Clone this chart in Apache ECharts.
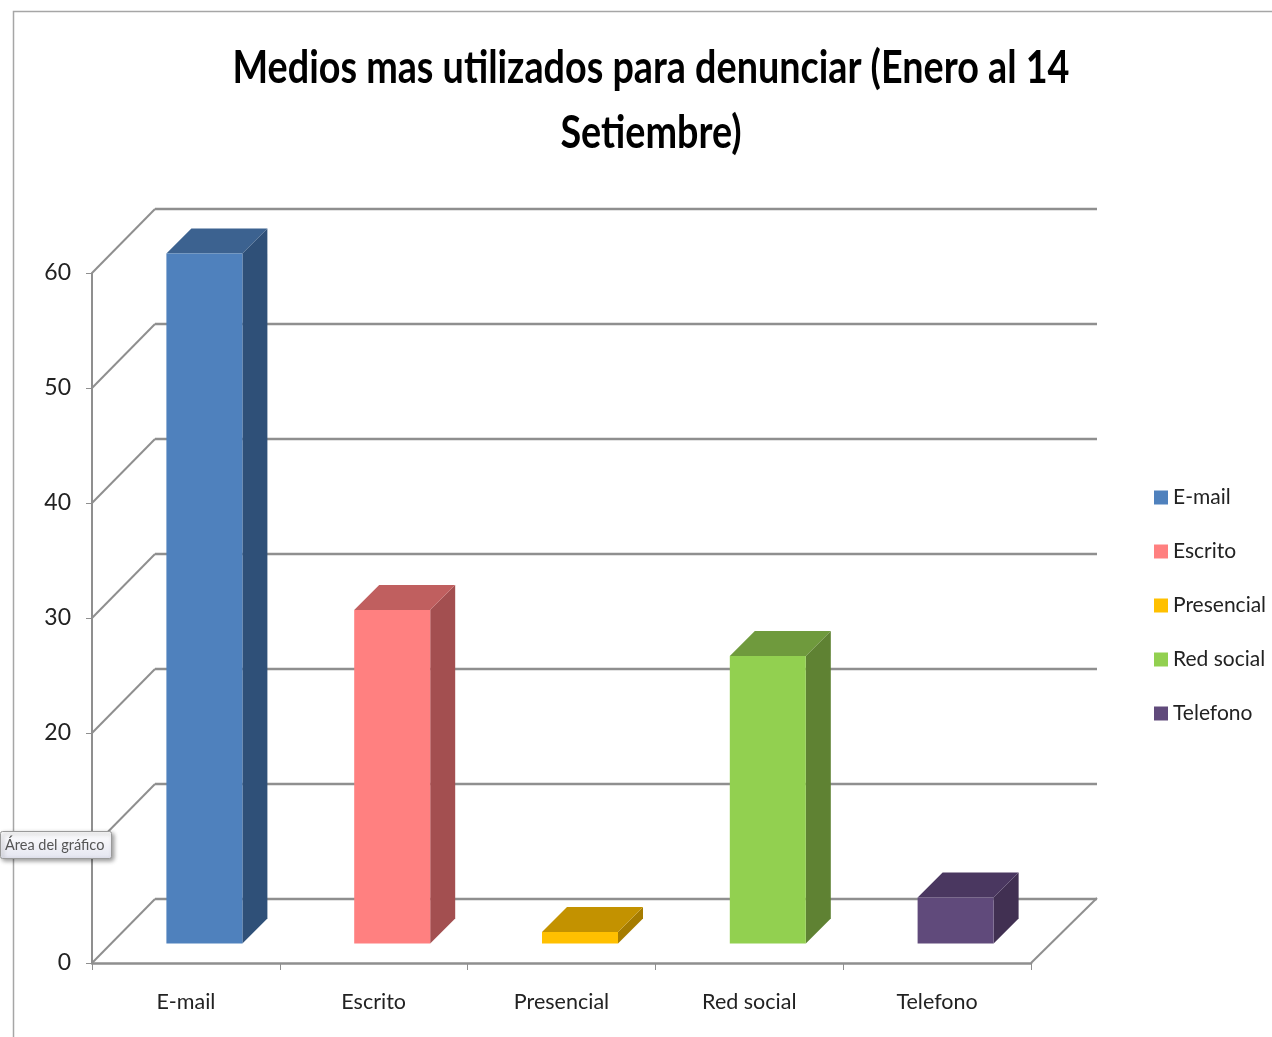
<!DOCTYPE html>
<html>
<head>
<meta charset="utf-8">
<title>Medios mas utilizados para denunciar</title>
<script src="https://cdn.jsdelivr.net/npm/echarts@6/dist/echarts.min.js"></script>
<style>
  html, body { margin: 0; padding: 0; background: #fff; }
  #medios { width: 1272px; height: 1037px; }
</style>
</head>
<body>
<div id="medios"></div>
<script>
var categorias = ['E-mail', 'Escrito', 'Presencial', 'Red social', 'Telefono'];
var denuncias = [60, 29, 1, 25, 4];
var marcasEje = [0, 10, 20, 30, 40, 50, 60];
var colorFrente = ['#4F81BD', '#FF8080', '#FFC000', '#92D050', '#604A7B'];
var colorLado = ['#2F5078', '#A34F50', '#A67C00', '#5F8233', '#413052'];
var colorTapa = ['#3C6290', '#C05F5F', '#C39200', '#6F9A3D', '#4A3760'];

var font = 'Lato, "Liberation Sans", sans-serif';
var gris = '#8f8f8f';

// dibuja el piso y las lineas de la pared del fondo
function pared(params, api) {
    var cs = params.coordSys;
    var y = api.coord([0, api.value(1)])[1];
    var esPiso = api.value(1) === 0;
    var hijos = [{
        type: 'line',
        shape: { x1: cs.x, y1: y, x2: cs.x + 63, y2: y - 64 },
        style: { stroke: gris, lineWidth: 2 }
    }, {
        type: 'line',
        shape: { x1: cs.x + 63, y1: y - 64, x2: cs.x + cs.width + 66, y2: y - 64 },
        style: { stroke: gris, lineWidth: 2.5 }
    }];
    if (esPiso) {
        hijos.push({
            type: 'line',
            shape: { x1: cs.x + cs.width, y1: y, x2: cs.x + cs.width + 66, y2: y - 65 },
            style: { stroke: gris, lineWidth: 2 }
        });
    }
    return { type: 'group', children: hijos };
}

function barra3d(i) {
    return function (params, api) {
        var base = api.coord([api.value(0), 0]);
        var tope = api.coord([api.value(0), api.value(1)]);
        var x0 = base[0] - 19.5;
        var x1 = x0 + 76;
        var y0 = base[1] - 19.5;
        var y1 = tope[1] - 19.5;
        var d = 25;
        return {
            type: 'group',
            children: [{
                type: 'polygon',
                shape: { points: [[x1, y0], [x1 + d, y0 - d], [x1 + d, y1 - d], [x1, y1]] },
                style: { fill: colorLado[i] }
            }, {
                type: 'polygon',
                shape: { points: [[x0, y1], [x0 + d, y1 - d], [x1 + d, y1 - d], [x1, y1]] },
                style: { fill: colorTapa[i] }
            }, {
                type: 'rect',
                shape: { x: x0, y: y1, width: x1 - x0, height: y0 - y1 },
                style: { fill: colorFrente[i] }
            }]
        };
    };
}

var series = [{
    name: 'pared',
    type: 'custom',
    z: 1,
    silent: true,
    encode: { x: 0, y: 1 },
    renderItem: pared,
    data: marcasEje.map(function (v) { return [0, v]; })
}];
for (var i = 0; i < categorias.length; i++) {
    series.push({
        name: categorias[i],
        type: 'custom',
        z: 3,
        encode: { x: 0, y: 1 },
        itemStyle: { color: colorFrente[i] },
        renderItem: barra3d(i),
        data: [[i, denuncias[i]]]
    });
}

var option = {
    animation: false,
    backgroundColor: '#fff',
    legend: {
        orient: 'vertical',
        left: 1154,
        top: 487,
        itemWidth: 14,
        itemHeight: 14,
        itemGap: 33,
        padding: 0,
        icon: 'rect',
        data: categorias,
        textStyle: { fontFamily: font, fontSize: 21, color: '#222' }
    },
    grid: { left: 92, top: 273, width: 939, height: 690 },
    xAxis: {
        type: 'category',
        data: categorias,
        axisLine: { lineStyle: { color: gris, width: 2.5 } },
        axisTick: { show: true, length: 7, lineStyle: { color: gris } },
        axisLabel: { fontFamily: font, fontSize: 21.5, color: '#222', margin: 28 },
        splitLine: { show: false }
    },
    yAxis: {
        type: 'value',
        min: 0,
        max: 60,
        interval: 10,
        axisLine: { show: true, lineStyle: { color: gris, width: 2 } },
        axisTick: { show: true, length: 6, lineStyle: { color: gris } },
        axisLabel: { fontFamily: font, fontSize: 23, color: '#222', margin: 21, padding: [18, 0, 0, 0] },
        splitLine: { show: false }
    },
    series: series,
    graphic: [{
        type: 'polyline',
        z: 0,
        shape: { points: [[13.5, 1037], [13.5, 11.5], [1272, 11.5]] },
        style: { stroke: '#a6a6a6', lineWidth: 1.5, fill: 'none' }
    }, {
        // titulo angosto, como en el original
        type: 'text',
        z: 5,
        x: 651,
        y: 68,
        scaleX: 0.82,
        style: {
            x: 0,
            y: 0,
            text: 'Medios mas utilizados para denunciar (Enero al 14',
            fontFamily: font,
            fontWeight: 'bold',
            fontSize: 46,
            fill: '#000',
            align: 'center',
            verticalAlign: 'middle'
        }
    }, {
        type: 'text',
        z: 5,
        x: 651,
        y: 133,
        scaleX: 0.82,
        style: {
            x: 0,
            y: 0,
            text: 'Setiembre)',
            fontFamily: font,
            fontWeight: 'bold',
            fontSize: 46,
            fill: '#000',
            align: 'center',
            verticalAlign: 'middle'
        }
    }, {
        type: 'rect',
        z: 100,
        shape: { x: 0.5, y: 831.5, width: 111, height: 27, r: 2 },
        style: {
            fill: new echarts.graphic.LinearGradient(0, 0, 0, 1, [
                { offset: 0, color: '#ffffff' },
                { offset: 1, color: '#e4e5f0' }
            ]),
            stroke: '#9a9a9a',
            lineWidth: 1,
            shadowBlur: 4,
            shadowOffsetX: 2,
            shadowOffsetY: 2,
            shadowColor: 'rgba(0,0,0,0.4)'
        }
    }, {
        type: 'text',
        z: 101,
        style: {
            x: 5,
            y: 845,
            text: 'Área del gráfico',
            fontFamily: font,
            fontSize: 14.5,
            fill: '#555',
            verticalAlign: 'middle'
        }
    }]
};
var myChart = echarts.init(document.getElementById('medios'));
myChart.setOption(option);
</script>
</body>
</html>
